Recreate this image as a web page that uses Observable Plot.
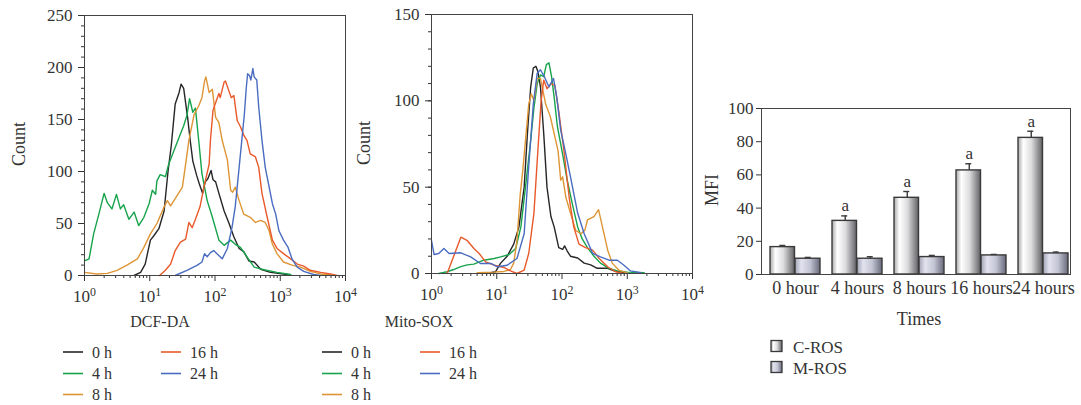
<!DOCTYPE html>
<html><head><meta charset="utf-8">
<script src="https://cdn.jsdelivr.net/npm/d3@7"></script>
<script src="https://cdn.jsdelivr.net/npm/@observablehq/plot@0.6"></script>
<style>
body{margin:0;background:#fff;}
#wrap{position:relative;width:1081px;height:405px;overflow:hidden;font-family:"Liberation Serif",serif;}
.panel{position:absolute;}
#overlay{position:absolute;left:0;top:0;pointer-events:none;font-family:"Liberation Serif",serif;}
#overlay text{font-family:"Liberation Serif",serif;}
</style></head><body>
<div id="wrap">
 <div id="p1" class="panel" style="left:0;top:0"></div>
 <div id="p2" class="panel" style="left:360px;top:0"></div>
 <div id="p3" class="panel" style="left:700px;top:90px"></div>
 <svg id="overlay" width="1081" height="405">
  <defs>
   <linearGradient id="gC" x1="0" x2="1" y1="0" y2="0">
    <stop offset="0" stop-color="#a9a9ab"/>
    <stop offset="0.22" stop-color="#ffffff"/>
    <stop offset="0.55" stop-color="#dcdcde"/>
    <stop offset="1" stop-color="#626266"/>
   </linearGradient>
   <linearGradient id="gM" x1="0" x2="1" y1="0" y2="0">
    <stop offset="0" stop-color="#a3a5b6"/>
    <stop offset="0.25" stop-color="#e2e3ee"/>
    <stop offset="0.6" stop-color="#c3c5d4"/>
    <stop offset="1" stop-color="#686a7c"/>
   </linearGradient>
  </defs>
 </svg>
</div>
<script>
// ---------- series labels / colours ----------
const timeLabels = ["0 h", "4 h", "8 h", "16 h", "24 h"];
const lineColors = ["#262626", "#16a34b", "#de9535", "#e85a2b", "#4a6cc0"];

// ---------- DCF-DA histograms: [log10 intensity, count] ----------
const dcf0h = [[0.76,0],[0.86,3],[0.93,11],[1.01,34],[1.06,38],[1.14,45],[1.22,62],[1.28,100],[1.33,125],[1.39,165],[1.45,176],[1.48,184],[1.52,180],[1.58,152],[1.62,130],[1.66,110],[1.72,96],[1.76,88],[1.81,79],[1.85,90],[1.89,93],[1.94,101],[1.97,92],[2.01,90],[2.06,79],[2.14,62],[2.21,51],[2.29,37],[2.37,26],[2.44,23],[2.52,14],[2.60,13],[2.70,6],[2.85,3],[3.05,1.5],[3.16,0.5]];
const dcf4h = [[0,14],[0.07,16],[0.14,40],[0.22,59],[0.30,79],[0.35,70],[0.42,64],[0.49,78],[0.55,64],[0.60,68],[0.68,54],[0.76,61],[0.83,48],[0.91,56],[0.99,69],[1.04,82],[1.09,78],[1.11,91],[1.16,97],[1.24,95],[1.29,107],[1.37,120],[1.47,136],[1.52,144],[1.57,154],[1.61,170],[1.66,157],[1.70,161],[1.75,130],[1.80,98],[1.88,72],[1.96,56],[2.06,34],[2.14,29],[2.24,34],[2.31,30],[2.39,27],[2.49,18],[2.60,8],[2.75,5.5],[2.95,3],[3.16,1]];
const dcf8h = [[0,3],[0.19,1.5],[0.35,2],[0.50,5],[0.65,10],[0.81,16],[0.91,27],[1.01,40],[1.11,50],[1.22,66],[1.27,72],[1.32,67],[1.37,72],[1.45,80],[1.50,85],[1.55,107],[1.60,130],[1.68,155],[1.75,163],[1.80,171],[1.84,187],[1.86,191],[1.91,176],[1.96,179],[2.01,152],[2.06,147],[2.11,130],[2.19,111],[2.24,82],[2.27,80],[2.31,85],[2.37,72],[2.44,59],[2.54,56],[2.62,51],[2.70,53],[2.77,51],[2.83,43],[2.88,30],[2.95,21],[3.05,13],[3.18,10],[3.31,8],[3.46,4],[3.62,1.5],[3.77,0.5]];
const dcf16h = [[1.15,0],[1.24,5],[1.32,11],[1.39,24],[1.47,32],[1.55,35],[1.60,51],[1.65,46],[1.70,54],[1.77,66],[1.83,85],[1.91,107],[1.93,130],[1.97,159],[2.02,168],[2.06,175],[2.08,171],[2.14,186],[2.16,187],[2.21,178],[2.25,171],[2.29,173],[2.34,149],[2.39,143],[2.44,135],[2.49,130],[2.54,117],[2.62,114],[2.67,104],[2.72,79],[2.80,56],[2.88,34],[2.95,26],[3.05,21],[3.16,16],[3.26,11],[3.36,9],[3.46,5],[3.62,3],[3.77,1.5],[3.87,0]];
const dcf24h = [[1.39,0],[1.57,5],[1.73,10],[1.80,13],[1.84,21],[1.88,18],[1.93,22],[1.98,24],[2.03,21],[2.11,16],[2.19,26],[2.26,46],[2.31,66],[2.37,104],[2.42,136],[2.45,155],[2.48,181],[2.50,194],[2.53,192],[2.55,188],[2.58,199],[2.60,191],[2.64,188],[2.67,162],[2.72,130],[2.77,104],[2.83,85],[2.88,69],[2.93,59],[2.98,43],[3.05,34],[3.12,27],[3.18,16],[3.26,8],[3.36,4],[3.51,1],[3.62,0]];

// ---------- Mito-SOX histograms: [log10 intensity, count] ----------
const sox0h = [[0.85,0],[0.98,1],[1.06,6],[1.16,10],[1.26,17],[1.34,27],[1.42,50],[1.47,81],[1.52,108],[1.56,119],[1.60,120],[1.63,117],[1.67,108],[1.72,81],[1.77,50],[1.83,33],[1.88,27],[1.95,15],[2.01,14],[2.04,16],[2.08,13],[2.13,10],[2.24,9],[2.34,6],[2.44,5],[2.54,3],[2.70,3],[2.80,1.5],[2.95,0.5]];
const sox4h = [[0.11,0],[0.24,1],[0.34,2.3],[0.45,4],[0.55,5],[0.65,5.4],[0.80,7.7],[0.96,8.7],[1.06,9.6],[1.19,11],[1.29,14.5],[1.37,27],[1.44,50],[1.52,77],[1.57,96],[1.62,110],[1.67,115],[1.72,114],[1.76,121],[1.80,122],[1.84,114],[1.88,102],[1.93,85],[2.01,69],[2.08,54],[2.16,40],[2.24,27],[2.31,20],[2.39,15],[2.49,10],[2.59,6],[2.72,3],[2.85,1.5],[3.00,0.8],[3.26,0.4]];
const sox8h = [[0.70,0.4],[0.96,0.8],[1.11,1.2],[1.21,2.3],[1.26,6],[1.31,19],[1.36,46],[1.40,60],[1.44,77],[1.49,98],[1.53,104],[1.57,100],[1.62,113],[1.67,113],[1.75,98],[1.82,91],[1.88,81],[1.94,71],[1.98,54],[2.01,56],[2.06,44],[2.13,35],[2.21,25],[2.29,23],[2.35,25],[2.39,31],[2.49,33],[2.56,37],[2.62,27],[2.70,13.5],[2.77,6],[2.87,2],[3.00,0.4]];
const sox16h = [[0.24,0],[0.34,10],[0.45,21],[0.55,19],[0.65,14.5],[0.73,11.6],[0.83,6.7],[0.96,4.8],[1.11,3.5],[1.21,1.5],[1.31,0],[1.42,2],[1.49,11.6],[1.57,35],[1.63,71],[1.68,100],[1.72,112],[1.77,107],[1.83,110],[1.89,109],[1.95,94],[2.03,71],[2.11,44],[2.18,27],[2.26,17],[2.36,15],[2.47,13.5],[2.57,8.7],[2.70,3.9],[2.82,1],[2.95,0]];
const sox24h = [[0,19],[0.04,11],[0.11,11.6],[0.19,14.5],[0.27,11.6],[0.45,12],[0.60,9.6],[0.75,5.8],[0.91,5.8],[1.01,3.9],[1.16,4.8],[1.31,8.7],[1.42,23],[1.49,62],[1.56,98],[1.62,116],[1.67,118],[1.73,114],[1.80,108],[1.87,113],[1.92,102],[1.98,83],[2.06,69],[2.13,56],[2.24,35],[2.34,23],[2.47,11.6],[2.59,9.6],[2.72,7.7],[2.85,7.7],[2.95,4.8],[3.05,1.5],[3.21,0.4]];

// ---------- axis ticks ----------
const xMajor = [1, 10, 100, 1000, 10000];
const yMajor1 = [0, 50, 100, 150, 200, 250];
const yMajor2 = [0, 50, 100, 150];

// ---------- MFI bar chart ----------
const barTimes = ["0 hour", "4 hours", "8 hours", "16 hours", "24 hours"];
const cROS = [16.5, 32.3, 46.2, 62.7, 82.3];
const cROSErr = [1.0, 3.0, 3.8, 4.0, 4.0];
const mROS = [9.5, 9.5, 10.5, 11.5, 12.7];
const mROSErr = [0.8, 1.2, 1.0, 0.6, 0.8];
const sigMarks = ["", "a", "a", "a", "a"];
const barTicks = [0, 20, 40, 60, 80, 100];

const FONT = '"Liberation Serif", serif';
const INK = "#333";

const xMinor = [];
for (let e = 0; e < 4; e++) for (let m = 2; m <= 9; m++) xMinor.push(m * 10 ** e);

function histogram(curves, yMax, yMajor, opts) {
  const yMinor = d3.range(0, yMax + 1, 10);
  const svg = Plot.plot({
    width: opts.width, height: opts.height,
    marginLeft: opts.ml, marginRight: opts.mr, marginTop: opts.mt, marginBottom: opts.mb,
    style: {fontFamily: FONT, fontSize: "17px", color: INK, background: "transparent", overflow: "visible"},
    x: {type: "log", domain: [1, 10000]},
    y: {domain: [0, yMax]},
    marks: [
      ...curves.map((c, i) => Plot.line(c, {x: d => 10 ** d[0], y: d => d[1], stroke: lineColors[i], strokeWidth: 1.4})),
      Plot.axisX(xMajor, {tickSize: 6, tickPadding: 8, label: null, tickFormat: d => "10^" + Math.round(Math.log10(d))}),
      Plot.axisX(xMinor, {tickSize: 3, label: null, tickFormat: () => ""}),
      Plot.axisY(yMajor, {tickSize: 6, tickPadding: 6, label: null}),
      Plot.axisY(yMinor, {tickSize: 3, label: null, tickFormat: () => ""}),
      Plot.frame({stroke: "#444", strokeWidth: 1})
    ]
  });
  svg.querySelectorAll("text").forEach(t => {
    const m = /^10\^(\d)$/.exec(t.textContent);
    if (m) {
      t.textContent = "10";
      const s = document.createElementNS("http://www.w3.org/2000/svg", "tspan");
      s.setAttribute("dy", "-0.5em");
      s.setAttribute("font-size", "0.7em");
      s.textContent = m[1];
      t.appendChild(s);
    }
  });
  return svg;
}

document.getElementById("p1").appendChild(
  histogram([dcf0h, dcf4h, dcf8h, dcf16h, dcf24h], 250, yMajor1,
    {width: 360, height: 310, ml: 84, mr: 15, mt: 15, mb: 35}));
document.getElementById("p2").appendChild(
  histogram([sox0h, sox4h, sox8h, sox16h, sox24h], 150, yMajor2,
    {width: 340, height: 310, ml: 71, mr: 8, mt: 14, mb: 37}));

// bar chart
const barRows = barTimes.map((t, i) => ({time: t, c: cROS[i], cErr: cROSErr[i], m: mROS[i], mErr: mROSErr[i], sig: sigMarks[i]}));
const p3 = Plot.plot({
  width: 381, height: 250,
  marginLeft: 61, marginRight: 11, marginTop: 18, marginBottom: 66,
  style: {fontFamily: FONT, fontSize: "17px", color: INK, background: "transparent", overflow: "visible"},
  x: {type: "band", domain: barTimes, paddingInner: 0.2, paddingOuter: 0, insetLeft: 8, insetRight: 1},
  y: {domain: [0, 100]},
  marks: [
    Plot.barY(barRows, {x: "time", y: "c", fill: "url(#gC)", stroke: "#3a3a3a", strokeWidth: 1.4, insetRight: 25.5}),
    Plot.barY(barRows, {x: "time", y: "m", fill: "url(#gM)", stroke: "#3a3a3a", strokeWidth: 1.4, insetLeft: 25}),
    Plot.ruleX(barRows, {x: "time", y1: "c", y2: d => d.c + d.cErr, dx: -12.25, stroke: "#3a3a3a", strokeWidth: 1.4}),
    Plot.ruleX(barRows, {x: "time", y1: "m", y2: d => d.m + d.mErr, dx: 12.75, stroke: "#3a3a3a", strokeWidth: 1.4}),
    Plot.tickY(barRows, {x: "time", y: d => d.c + d.cErr, insetLeft: 9.25, insetRight: 34.75, stroke: "#3a3a3a", strokeWidth: 1.4}),
    Plot.tickY(barRows, {x: "time", y: d => d.m + d.mErr, insetLeft: 34.75, insetRight: 9.25, stroke: "#3a3a3a", strokeWidth: 1.4}),
    Plot.text(barRows, {x: "time", y: d => d.c + d.cErr, text: "sig", dx: -12.25, dy: -10, fontSize: 17, fill: INK}),
    Plot.axisY(barTicks, {tickSize: 5, tickPadding: 3, label: null}),
    Plot.axisX({tickSize: 0, tickPadding: 7, label: null, fontSize: 18}),
    Plot.frame({stroke: "#444", strokeWidth: 1})
  ]
});
document.getElementById("p3").appendChild(p3);

// ---------- titles and legends ----------
const ov = d3.select("#overlay");
function txt(x, y, s, size, anchor = "middle", rot = false) {
  const t = ov.append("text").style("font-family", "'Liberation Serif', serif").attr("font-size", size)
    .attr("fill", INK).attr("text-anchor", anchor).text(s);
  if (rot) t.attr("transform", `translate(${x},${y}) rotate(-90)`).attr("dy", "0.35em");
  else t.attr("x", x).attr("y", y);
}
txt(18.5, 144, "Count", 18, "middle", true);
txt(364, 143, "Count", 18, "middle", true);
txt(712, 190, "MFI", 18, "middle", true);
txt(160, 327, "DCF-DA", 16);
txt(419, 327, "Mito-SOX", 16);
txt(919, 325, "Times", 18);

function lineLegend(colX) {
  const rowY = [352, 373.5, 394.5];
  timeLabels.forEach((lab, i) => {
    const col = i < 3 ? 0 : 1, row = i < 3 ? i : i - 3;
    const x = colX[col], y = rowY[row];
    ov.append("line").attr("x1", x).attr("x2", x + 20).attr("y1", y).attr("y2", y)
      .attr("stroke", lineColors[i]).attr("stroke-width", 1.6);
    txt(x + 29, y + 5.5, lab, 16, "start");
  });
}
lineLegend([63, 161]);
lineLegend([322, 420]);

[["C-ROS", "url(#gC)", 346], ["M-ROS", "url(#gM)", 367]].forEach(([lab, f, y]) => {
  ov.append("rect").attr("x", 771).attr("y", y - 5.5).attr("width", 11).attr("height", 11)
    .attr("fill", f).attr("stroke", "#3a3a3a").attr("stroke-width", 1.3);
  txt(793, y + 6.5, lab, 17, "start");
});
</script>
</body></html>
